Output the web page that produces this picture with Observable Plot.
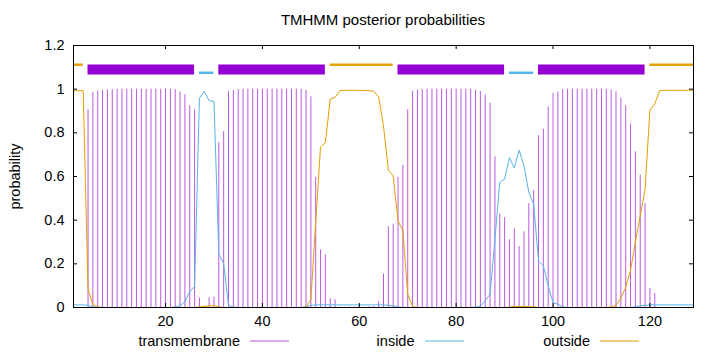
<!DOCTYPE html>
<html>
<head>
<meta charset="utf-8">
<script src="https://cdn.jsdelivr.net/npm/d3@7"></script>
<script src="https://cdn.jsdelivr.net/npm/@observablehq/plot@0.6"></script>
<style>
  html, body { margin: 0; padding: 0; background: #fff; }
  #wrap { position: relative; width: 720px; height: 352px; overflow: hidden;
          font-family: "Liberation Sans", Arial, sans-serif; color: #000; background: #fff; }
  #title { position: absolute; left: 73px; width: 620px; top: 12px; text-align: center;
           font-size: 15px; line-height: 16px; }
  #chart { position: absolute; left: 0; top: 34px; }
  .legtext { position: absolute; top: 332px; font-size: 14.5px; line-height: 18px; text-align: right; white-space: nowrap; }
  .legsvg { position: absolute; top: 336px; width: 40px; height: 10px; overflow: visible; }
</style>
</head>
<body>
<div id="wrap">
  <div id="title"></div>
  <div id="chart"></div>
</div>
<script>
// ---- data ----
const positions = d3.range(1, 130);
const tmProb = [
  0, 0, 0, 0.906, 0.985, 0.992, 0.995, 0.996, 0.998, 1,
  1, 1, 1, 1, 1, 1, 1, 1, 1, 1,
  1, 0.998, 0.987, 0.974, 0.924, 0.904, 0.043, 0.005, 0.045, 0.048,
  0.756, 0.806, 0.989, 0.994, 0.998, 1, 1, 1, 1, 1,
  1, 1, 1, 1, 1, 1, 1, 1, 0.995, 0.965,
  0.596, 0.264, 0.241, 0.04, 0.035, 0.003, 0.002, 0.002, 0.002, 0.005,
  0.002, 0.003, 0.005, 0.027, 0.153, 0.37, 0.382, 0.596, 0.652, 0.906,
  0.99, 0.995, 0.998, 1, 1, 1, 1, 1, 1, 1,
  1, 1, 1, 0.995, 0.989, 0.973, 0.936, 0.69, 0.428, 0.412,
  0.31, 0.36, 0.279, 0.347, 0.476, 0.535, 0.787, 0.817, 0.919, 0.98,
  0.987, 0.998, 1, 1, 1, 1, 1, 1, 1, 1,
  1, 0.997, 0.988, 0.959, 0.924, 0.84, 0.713, 0.606, 0.476, 0.087,
  0.064, 0, 0, 0, 0, 0, 0, 0, 0
];
const insideProb = [
  0.012, 0.012, 0.012, 0.01, 0.003, 0, 0, 0, 0, 0,
  0, 0, 0, 0, 0, 0, 0, 0, 0, 0,
  0, 0.002, 0.008, 0.027, 0.073, 0.096, 0.959, 0.99, 0.947, 0.944,
  0.245, 0.202, 0.01, 0.002, 0, 0, 0, 0, 0, 0,
  0, 0, 0, 0, 0, 0, 0, 0, 0.003, 0.01,
  0.012, 0.012, 0.012, 0.012, 0.012, 0.012, 0.012, 0.012, 0.012, 0.012,
  0.012, 0.012, 0.012, 0.012, 0.012, 0.01, 0.008, 0.003, 0, 0,
  0, 0, 0, 0, 0, 0, 0, 0, 0, 0,
  0, 0, 0, 0.002, 0.005, 0.031, 0.061, 0.31, 0.573, 0.588,
  0.687, 0.639, 0.721, 0.649, 0.527, 0.474, 0.214, 0.191, 0.099, 0.023,
  0.015, 0.003, 0, 0, 0, 0, 0, 0, 0, 0,
  0, 0, 0, 0, 0, 0, 0.003, 0.008, 0.01, 0.012,
  0.012, 0.012, 0.012, 0.012, 0.012, 0.012, 0.012, 0.012, 0.012
];
const outsideProb = [
  0.993, 0.993, 0.993, 0.084, 0.012, 0.003, 0, 0, 0, 0,
  0, 0, 0, 0, 0, 0, 0, 0, 0, 0,
  0, 0, 0, 0, 0, 0, 0.003, 0.005, 0.008, 0.008,
  0.003, 0, 0, 0, 0, 0, 0, 0, 0, 0,
  0, 0, 0, 0, 0, 0, 0, 0, 0.002, 0.035,
  0.39, 0.735, 0.755, 0.955, 0.962, 0.993, 0.995, 0.995, 0.995, 0.994,
  0.994, 0.993, 0.99, 0.965, 0.83, 0.629, 0.603, 0.397, 0.351, 0.061,
  0.005, 0, 0, 0, 0, 0, 0, 0, 0, 0,
  0, 0, 0, 0, 0, 0, 0, 0, 0, 0,
  0.002, 0.005, 0.005, 0.005, 0.004, 0.003, 0, 0, 0, 0,
  0, 0, 0, 0, 0, 0, 0, 0, 0, 0,
  0, 0.002, 0.01, 0.043, 0.092, 0.17, 0.3, 0.42, 0.54, 0.904,
  0.932, 0.993, 0.995, 0.995, 0.995, 0.995, 0.995, 0.995, 0.995
];
const segStart = [1, 4, 27, 31, 54, 68, 91, 97, 120];
const segEnd   = [3, 26, 30, 53, 67, 90, 96, 119, 129];
const segType  = ["outside", "transmembrane", "inside", "transmembrane", "outside",
                  "transmembrane", "inside", "transmembrane", "outside"];
const seriesNames = ["transmembrane", "inside", "outside"];
const xTicks = [20, 40, 60, 80, 100, 120];
const yTicks = [0, 0.2, 0.4, 0.6, 0.8, 1, 1.2];
const titleText = "TMHMM posterior probabilities";
const yLabel = "probability";

// ---- styles ----
const colors = { transmembrane: "#9400d3", inside: "#56b4e9", outside: "#e69f00" };
const barLevel = { transmembrane: 1.09, inside: 1.075, outside: 1.112 };

const rows = positions.map((p, i) => ({ pos: p, tm: tmProb[i], inside: insideProb[i], outside: outsideProb[i] }));
const segs = segStart.map((s, i) => ({ start: s, end: segEnd[i], type: segType[i] }));

const W = 720, H = 298, ML = 73, MR = 27, MT = 11, MB = 25;
const FW = W - ML - MR, FH = H - MT - MB, TICK = 4;
const fmt = d => String(+d.toFixed(1));

const chart = Plot.plot({
  width: W, height: H,
  marginLeft: ML, marginRight: MR, marginTop: MT, marginBottom: MB,
  style: { fontFamily: '"Liberation Sans", Arial, sans-serif', fontSize: "14.5px", color: "#000", background: "#fff" },
  x: { domain: [1, 129] },
  y: { domain: [0, 1.2] },
  marks: [
    Plot.ruleX(rows, { x: "pos", y1: 0, y2: "tm", stroke: colors.transmembrane, strokeOpacity: 0.65, strokeWidth: 1 }),
    Plot.line(rows, { x: "pos", y: "inside", stroke: colors.inside, strokeWidth: 1 }),
    Plot.line(rows, { x: "pos", y: "outside", stroke: colors.outside, strokeWidth: 1 }),
    Plot.ruleY(segs.filter(d => d.type === "transmembrane"),
      { x1: "start", x2: "end", y: d => barLevel[d.type], stroke: colors.transmembrane, strokeWidth: 10 }),
    Plot.ruleY(segs.filter(d => d.type !== "transmembrane"),
      { x1: "start", x2: "end", y: d => barLevel[d.type], stroke: d => colors[d.type], strokeWidth: 2.5 }),
    Plot.frame({ stroke: "#000" }),
    // inward ticks (gnuplot style, mirrored)
    Plot.tickX(xTicks, { x: d => d, insetTop: FH - TICK, stroke: "#000" }),
    Plot.tickX(xTicks, { x: d => d, insetBottom: FH - TICK, stroke: "#000" }),
    Plot.tickY(yTicks, { y: d => d, insetRight: FW - TICK, stroke: "#000" }),
    Plot.tickY(yTicks, { y: d => d, insetLeft: FW - TICK, stroke: "#000" }),
    Plot.axisX(xTicks, { tickSize: 0, tickPadding: 8, label: null }),
    Plot.axisY(yTicks, { tickSize: 0, tickPadding: 9, tickFormat: fmt, label: yLabel,
      labelAnchor: "center", labelOffset: 64, labelArrow: "none" })
  ]
});
document.getElementById("chart").appendChild(chart);
document.getElementById("title").textContent = titleText;

// legend below the plot
const wrap = document.getElementById("wrap");
const legendTextRight = [240, 414.5, 590];
const svgNS = "http://www.w3.org/2000/svg";
seriesNames.forEach((name, i) => {
  const t = document.createElement("div");
  t.className = "legtext";
  t.style.right = (720 - legendTextRight[i]) + "px";
  t.textContent = name;
  wrap.appendChild(t);
  const s = document.createElementNS(svgNS, "svg");
  s.setAttribute("class", "legsvg");
  s.setAttribute("width", "40");
  s.setAttribute("height", "10");
  s.style.left = (legendTextRight[i] + 10) + "px";
  const ln = document.createElementNS(svgNS, "line");
  ln.setAttribute("x1", "0"); ln.setAttribute("x2", "39");
  ln.setAttribute("y1", "5"); ln.setAttribute("y2", "5");
  ln.setAttribute("stroke", colors[name]);
  ln.setAttribute("stroke-width", "1");
  if (name === "transmembrane") ln.setAttribute("stroke-opacity", "0.65");
  s.appendChild(ln);
  wrap.appendChild(s);
});
</script>
</body>
</html>
